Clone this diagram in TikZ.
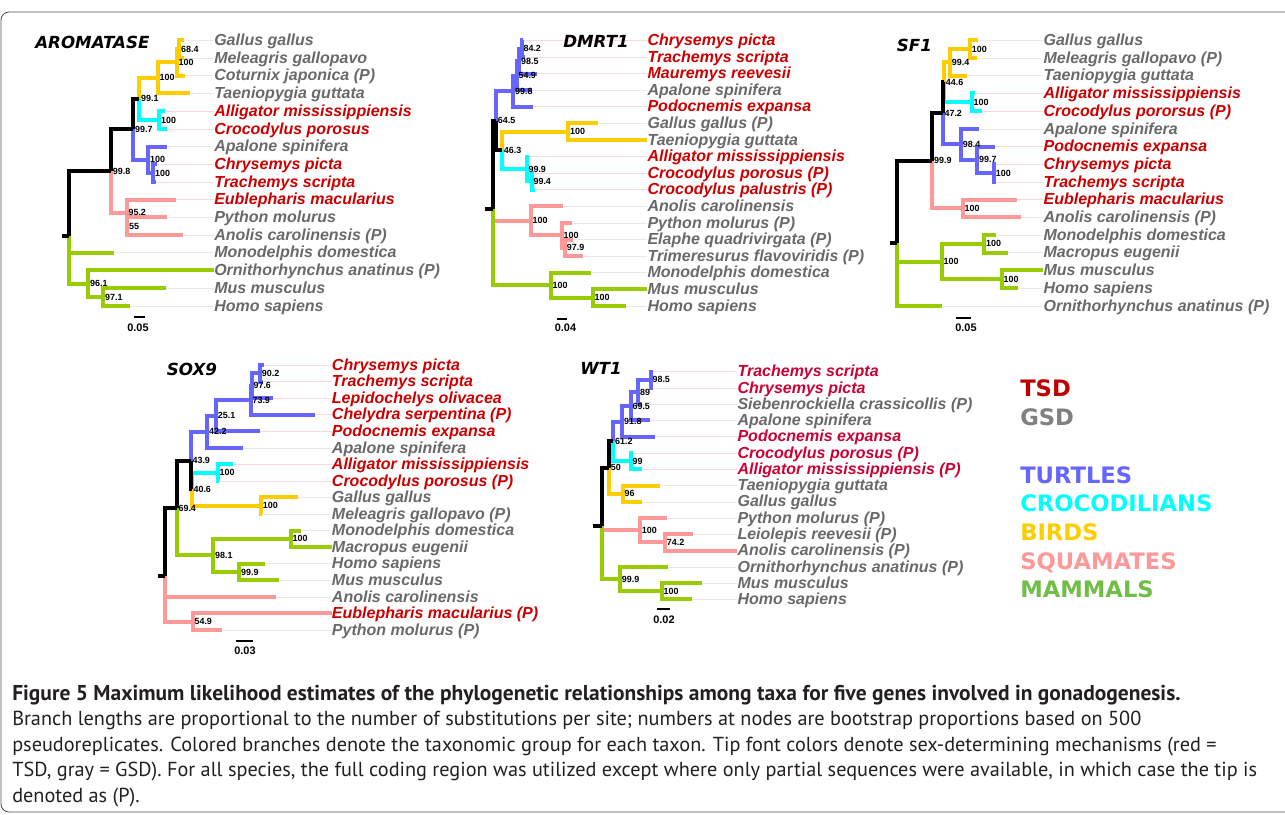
\documentclass[tikz,border=0pt]{standalone}
\usepackage{fontspec}
\setmainfont{Liberation Sans}
\newfontfamily\headfont{DejaVu Sans}
\newfontfamily\capfont{PT Sans}
\usetikzlibrary{positioning}
\definecolor{turt}{RGB}{102,102,255}
\definecolor{croc}{RGB}{0,255,255}
\definecolor{bird}{RGB}{255,204,0}
\definecolor{squa}{RGB}{255,153,153}
\definecolor{mamm}{RGB}{153,204,0}
\definecolor{mammleg}{RGB}{112,190,70}
\definecolor{tsd}{RGB}{204,0,0}
\definecolor{tsdw}{RGB}{204,0,51}
\definecolor{gsd}{RGB}{105,105,105}
\definecolor{tsdleg}{RGB}{192,0,0}
\definecolor{gsdleg}{RGB}{128,128,128}
\definecolor{captext}{RGB}{35,31,32}
\tikzset{
  br/.style={line width=3pt},
  tip/.style={anchor=base west, inner sep=0, font=\fontsize{12}{12}\selectfont\bfseries\itshape},
  guide/.style={line width=0.4pt},
  bs/.style={anchor=west, inner xsep=1.2pt, inner ysep=0, font=\fontsize{6.7}{6.7}\selectfont\bfseries},
  gene/.style={anchor=west, inner sep=0, font=\headfont\fontsize{12.5}{12.5}\selectfont\bfseries\itshape},
  sbar/.style={line width=1.5pt},
  sblab/.style={inner sep=0, font=\fontsize{8.2}{8.2}\selectfont\bfseries},
  legend/.style={anchor=west, inner sep=0, text depth=0pt, font=\headfont\fontsize{17}{17}\selectfont\bfseries},
  capline/.style={anchor=base west, inner sep=0, text=captext, font=\capfont\fontsize{15.2}{15.2}\selectfont},
  frame/.style={line width=0.6pt, draw=black!70, rounded corners=6pt}
}

\begin{document}
\begin{tikzpicture}[x=0.75pt, y=-0.75pt]
\useasboundingbox (0,0) rectangle (1285,814);
\draw[frame] (1285,12) -- (1,12) -- (1,812) -- (1285,812);

% AROMATASE
\foreach [count = \i] \t/\c/\x in {Gallus gallus/gsd/184, Meleagris gallopavo/gsd/184, Coturnix japonica (P)/gsd/185, Taeniopygia guttata/gsd/190, Alligator mississippiensis/tsd/165, Crocodylus porosus/tsd/166.7, Apalone spinifera/gsd/166.7, Chrysemys picta/tsd/156.7, Trachemys scripta/tsd/156, Eublepharis macularius/tsd/176, Python molurus/gsd/167.3, Anolis carolinensis (P)/gsd/182.7, Monodelphis domestica/gsd/114, Ornithorhynchus anatinus (P)/gsd/214, Mus musculus/gsd/166, Homo sapiens/gsd/130}{
\coordinate (aT\i) at (\x, {40.3+(\i-1)*17.7});
\node[tip, text=\c] (aL\i) at (214, {40.3+(\i-1)*17.7+5.2}) {\t};
\draw[guide, \c!15] (aT\i) -- (aT\i -| aL\i.west);
}
\node[gene] (aTitle) at (35,42) {AROMATASE};
\coordinate (aN1) at (179.3,49.15);
\coordinate (aN2) at (176.7,62.4);
\coordinate (aN3) at (157.7,77.9);
\coordinate (aN4) at (159.3,119.95);
\coordinate (aN5) at (139.3,98.9);
\coordinate (aN6) at (153.3,173.05);
\coordinate (aN7) at (148.3,159.8);
\coordinate (aN8) at (133.3,129.35);
\coordinate (aN9) at (127.3,226.15);
\coordinate (aN10) at (126.7,212.9);
\coordinate (aN11) at (111,171.1);
\coordinate (aN12) at (103.3,296.95);
\coordinate (aN13) at (88.3,283.7);
\coordinate (aR) at (69.3,235.8);
\coordinate (aS) at (61.7,235.8);
\foreach \p/\q in {aN1/aT1, aN1/aT2, aN2/aN1, aN2/aT3, aN3/aN2, aN3/aT4, aN5/aN3} \draw[br, bird] (\p) |- (\q);
\foreach \p/\q in {aN4/aT5, aN4/aT6, aN5/aN4} \draw[br, croc] (\p) |- (\q);
\foreach \p/\q in {aN6/aT8, aN6/aT9, aN7/aT7, aN7/aN6, aN8/aN7} \draw[br, turt] (\p) |- (\q);
\foreach \p/\q in {aN9/aT11, aN9/aT12, aN10/aT10, aN10/aN9, aN11/aN10} \draw[br, squa] (\p) |- (\q);
\foreach \p/\q in {aN12/aT15, aN12/aT16, aN13/aT14, aN13/aN12, aR/aT13, aR/aN13} \draw[br, mamm] (\p) |- (\q);
\foreach \p/\q in {aN8/aN5, aN11/aN8, aR/aN11, aS/aR} \draw[br, black] (\p) |- (\q);
\foreach \n/\s in {aN1/68.4, aN2/100, aN3/100, aN4/100, aN5/99.1, aN6/100, aN7/100, aN8/99.7, aN9/55, aN10/95.2, aN11/99.8, aN12/97.1, aN13/96.1} \node[bs] (b\n) at (\n) {\s};
\coordinate (aB1) at (134,317.3);
\coordinate (aB2) at (145,317.3);
\draw[sbar] (aB1) -- (aB2);
\node[sblab] (aBl) at (138,328) {0.05};

% DMRT1
\foreach [count = \i] \t/\c/\x in {Chrysemys picta/tsd/523.3, Trachemys scripta/tsd/525, Mauremys reevesii/tsd/536.7, Apalone spinifera/gsd/531.7, Podocnemis expansa/tsd/533.3, Gallus gallus (P)/gsd/598.3, Taeniopygia guttata/gsd/646.7, Alligator mississippiensis/tsd/528.5, Crocodylus porosus (P)/tsd/534, Crocodylus palustris (P)/tsd/535, Anolis carolinensis/gsd/563.3, Python molurus (P)/gsd/571.7, Elaphe quadrivirgata (P)/gsd/573.3, Trimeresurus flavoviridis (P)/gsd/582.7, Monodelphis domestica/gsd/590.7, Mus musculus/gsd/646.7, Homo sapiens/gsd/626}{
\coordinate (dT\i) at (\x, {40.3+(\i-1)*16.6});
\node[tip, text=\c] (dL\i) at (647.3, {40.3+(\i-1)*16.6+5.2}) {\t};
\draw[guide, \c!15] (dT\i) -- (dT\i -| dL\i.west);
}
\node[gene] (dTitle) at (563,41.7) {DMRT1};
\coordinate (dN1) at (521.7,48.6);
\coordinate (dN2) at (519.3,61.05);
\coordinate (dN3) at (516.7,75.6);
\coordinate (dN4) at (513.3,91.15);
\coordinate (dN5) at (568.3,131.6);
\coordinate (dN6) at (531.7,181.4);
\coordinate (dN7) at (526.7,168.95);
\coordinate (dN8) at (502,150.3);
\coordinate (dN9) at (496,120.7);
\coordinate (dN10) at (565,247.8);
\coordinate (dN11) at (561.7,235.35);
\coordinate (dN12) at (530.7,220.8);
\coordinate (dN13) at (592.7,297.6);
\coordinate (dN14) at (550.7,285.15);
\coordinate (dR) at (492.7,208.9);
\coordinate (dS) at (485,208.9);
\foreach \p/\q in {dN1/dT1, dN1/dT2, dN2/dN1, dN2/dT3, dN3/dN2, dN3/dT4, dN4/dN3, dN4/dT5, dN9/dN4} \draw[br, turt] (\p) |- (\q);
\foreach \p/\q in {dN5/dT6, dN5/dT7, dN8/dN5} \draw[br, bird] (\p) |- (\q);
\foreach \p/\q in {dN6/dT9, dN6/dT10, dN7/dT8, dN7/dN6, dN8/dN7} \draw[br, croc] (\p) |- (\q);
\foreach \p/\q in {dN10/dT13, dN10/dT14, dN11/dT12, dN11/dN10, dN12/dT11, dN12/dN11, dR/dN12} \draw[br, squa] (\p) |- (\q);
\foreach \p/\q in {dN13/dT16, dN13/dT17, dN14/dT15, dN14/dN13, dR/dN14} \draw[br, mamm] (\p) |- (\q);
\foreach \p/\q in {dN9/dN8, dR/dN9, dS/dR} \draw[br, black] (\p) |- (\q);
\foreach \n/\s in {dN1/84.2, dN2/98.5, dN3/54.9, dN4/99.8, dN5/100, dN6/99.4, dN7/99.9, dN8/46.3, dN9/64.5, dN10/97.9, dN11/100, dN12/100, dN13/100, dN14/100} \node[bs] (b\n) at (\n) {\s};
\coordinate (dB1) at (556.7,319);
\coordinate (dB2) at (567.3,319);
\draw[sbar] (dB1) -- (dB2);
\node[sblab] (dBl) at (565.5,328) {0.04};

% SF1
\foreach [count = \i] \t/\c/\x in {Gallus gallus/gsd/978.3, Meleagris gallopavo (P)/gsd/976.7, Taeniopygia guttata/gsd/966.7, Alligator mississippiensis/tsd/975, Crocodylus pororsus (P)/tsd/981.7, Apalone spinifera/gsd/979.3, Podocnemis expansa/tsd/995, Chrysemys picta/tsd/996, Trachemys scripta/tsd/996, Eublepharis macularius/tsd/1017.3, Anolis carolinensis (P)/gsd/1020.7, Monodelphis domestica/gsd/996, Macropus eugenii/gsd/1008.3, Mus musculus/gsd/1043.3, Homo sapiens/gsd/1018.3, Ornithorhynchus anatinus (P)/gsd/941.7}{
\coordinate (sT\i) at (\x, {40.3+(\i-1)*17.7});
\node[tip, text=\c] (sL\i) at (1043.3, {40.3+(\i-1)*17.7+5.2}) {\t};
\draw[guide, \c!15] (sT\i) -- (sT\i -| sL\i.west);
}
\node[gene] (sTitle) at (896.7,45.7) {SF1};
\coordinate (sN1) at (970,49.15);
\coordinate (sN2) at (950,62.4);
\coordinate (sN3) at (971.7,102.25);
\coordinate (sN4) at (944,82.3);
\coordinate (sN5) at (994,173.05);
\coordinate (sN6) at (977.3,159.8);
\coordinate (sN7) at (961,144.3);
\coordinate (sN8) at (942.7,113.3);
\coordinate (sN9) at (962.7,208.45);
\coordinate (sN10) at (932.3,160.9);
\coordinate (sN11) at (984.3,243.85);
\coordinate (sN12) at (1001.7,279.25);
\coordinate (sN13) at (941.7,261.55);
\coordinate (sR) at (897.3,242.75);
\coordinate (sS) at (890,242.75);
\foreach \p/\q in {sN1/sT1, sN1/sT2, sN2/sN1, sN2/sT3, sN4/sN2} \draw[br, bird] (\p) |- (\q);
\foreach \p/\q in {sN3/sT4, sN3/sT5, sN4/sN3} \draw[br, croc] (\p) |- (\q);
\foreach \p/\q in {sN5/sT8, sN5/sT9, sN6/sT7, sN6/sN5, sN7/sT6, sN7/sN6, sN8/sN7} \draw[br, turt] (\p) |- (\q);
\foreach \p/\q in {sN9/sT10, sN9/sT11, sN10/sN9} \draw[br, squa] (\p) |- (\q);
\foreach \p/\q in {sN11/sT12, sN11/sT13, sN12/sT14, sN12/sT15, sN13/sN11, sN13/sN12, sR/sN13, sR/sT16} \draw[br, mamm] (\p) |- (\q);
\foreach \p/\q in {sN8/sN4, sN10/sN8, sR/sN10, sS/sR} \draw[br, black] (\p) |- (\q);
\foreach \n/\s in {sN1/100, sN2/99.4, sN3/100, sN4/44.6, sN5/100, sN6/99.7, sN7/98.4, sN8/47.2, sN9/100, sN10/99.9, sN11/100, sN12/100, sN13/100} \node[bs] (b\n) at (\n) {\s};
\coordinate (sB1) at (956,318.3);
\coordinate (sB2) at (970.7,318.3);
\draw[sbar] (sB1) -- (sB2);
\node[sblab] (sBl) at (966,328) {0.05};

% SOX9
\foreach [count = \i] \t/\c/\x in {Chrysemys picta/tsd/264, Trachemys scripta/tsd/263.3, Lepidochelys olivacea/tsd/273.3, Chelydra serpentina (P)/tsd/315, Podocnemis expansa/tsd/260, Apalone spinifera/gsd/242.7, Alligator mississippiensis/tsd/232.7, Crocodylus porosus (P)/tsd/218.3, Gallus gallus/gsd/298.3, Meleagris gallopavo (P)/gsd/261.7, Monodelphis domestica/gsd/300.7, Macropus eugenii/gsd/331.7, Homo sapiens/gsd/265, Mus musculus/gsd/279.3, Anolis carolinensis/gsd/276, Eublepharis macularius (P)/tsd/331.7, Python molurus (P)/gsd/221.7}{
\coordinate (xT\i) at (\x, {365+(\i-1)*16.56});
\node[tip, text=\c] (xL\i) at (331.7, {365+(\i-1)*16.56+5.2}) {\t};
\draw[guide, \c!15] (xT\i) -- (xT\i -| xL\i.west);
}
\node[gene] (xTitle) at (166.7,369) {SOX9};
\coordinate (xN1) at (260,373.3);
\coordinate (xN2) at (251.7,385.7);
\coordinate (xN3) at (250.7,400.2);
\coordinate (xN4) at (216,415.7);
\coordinate (xN5) at (207.3,431.75);
\coordinate (xN6) at (217.7,472.64);
\coordinate (xN7) at (261,505.76);
\coordinate (xN8) at (191.7,489.2);
\coordinate (xN9) at (190.7,460.5);
\coordinate (xN10) at (290.7,538.9);
\coordinate (xN11) at (239.3,572);
\coordinate (xN12) at (213.3,555.45);
\coordinate (xN13) at (176.7,508);
\coordinate (xN14) at (192.7,621.7);
\coordinate (xR) at (165,575.5);
\coordinate (xS) at (158.3,575.5);
\foreach \p/\q in {xN1/xT1, xN1/xT2, xN2/xN1, xN2/xT3, xN3/xN2, xN3/xT4, xN4/xN3, xN4/xT5, xN5/xN4, xN5/xT6, xN9/xN5} \draw[br, turt] (\p) |- (\q);
\foreach \p/\q in {xN6/xT7, xN6/xT8, xN8/xN6} \draw[br, croc] (\p) |- (\q);
\foreach \p/\q in {xN7/xT9, xN7/xT10, xN8/xN7} \draw[br, bird] (\p) |- (\q);
\foreach \p/\q in {xN10/xT11, xN10/xT12, xN11/xT13, xN11/xT14, xN12/xN10, xN12/xN11, xN13/xN12} \draw[br, mamm] (\p) |- (\q);
\foreach \p/\q in {xN14/xT16, xN14/xT17, xR/xT15, xR/xN14} \draw[br, squa] (\p) |- (\q);
\foreach \p/\q in {xN9/xN8, xN13/xN9, xR/xN13, xS/xR} \draw[br, black] (\p) |- (\q);
\foreach \n/\s in {xN1/90.2, xN2/97.6, xN3/73.9, xN4/25.1, xN5/42.2, xN6/100, xN7/100, xN8/40.6, xN9/43.9, xN10/100, xN11/99.9, xN12/98.1, xN13/69.4, xN14/54.9} \node[bs] (b\n) at (\n) {\s};
\coordinate (xB1) at (236,641);
\coordinate (xB2) at (253.3,641);
\draw[sbar] (xB1) -- (xB2);
\node[sblab] (xBl) at (245,651) {0.03};

% WT1
\foreach [count = \i] \t/\c/\x in {Trachemys scripta/tsdw/652.7, Chrysemys picta/tsdw/652.7, Siebenrockiella crassicollis (P)/gsd/641.7, Apalone spinifera/gsd/650, Podocnemis expansa/tsdw/655, Crocodylus porosus (P)/tsdw/632.7, Alligator mississippiensis (P)/tsdw/641.7, Taeniopygia guttata/gsd/660, Gallus gallus/gsd/641.7, Python molurus (P)/gsd/667.3, Leiolepis reevesii (P)/gsd/692.7, Anolis carolinensis (P)/gsd/737.3, Ornithorhynchus anatinus (P)/gsd/668.3, Mus musculus/gsd/701.7, Homo sapiens/gsd/691.7}{
\coordinate (wT\i) at (\x, {371.7+(\i-1)*16.26});
\node[tip, text=\c] (wL\i) at (737.3, {371.7+(\i-1)*16.26+5.2}) {\t};
\draw[guide, \c!15] (wT\i) -- (wT\i -| wL\i.west);
}
\node[gene] (wTitle) at (580,368.3) {WT1};
\coordinate (wN1) at (650.7,379.83);
\coordinate (wN2) at (638.3,392.03);
\coordinate (wN3) at (630.7,406.25);
\coordinate (wN4) at (622.3,421.5);
\coordinate (wN5) at (630.7,461.13);
\coordinate (wN6) at (613.3,441.3);
\coordinate (wN7) at (622.7,493.65);
\coordinate (wN8) at (609,467.5);
\coordinate (wN9) at (665,542.43);
\coordinate (wN10) at (640,530.2);
\coordinate (wN11) at (661.7,591.2);
\coordinate (wN12) at (620,579);
\coordinate (wR) at (601.7,525.6);
\coordinate (wS) at (592.7,525.6);
\foreach \p/\q in {wN1/wT1, wN1/wT2, wN2/wN1, wN2/wT3, wN3/wN2, wN3/wT4, wN4/wN3, wN4/wT5, wN6/wN4} \draw[br, turt] (\p) |- (\q);
\foreach \p/\q in {wN5/wT6, wN5/wT7, wN6/wN5} \draw[br, croc] (\p) |- (\q);
\foreach \p/\q in {wN7/wT8, wN7/wT9, wN8/wN7} \draw[br, bird] (\p) |- (\q);
\foreach \p/\q in {wN9/wT11, wN9/wT12, wN10/wT10, wN10/wN9, wR/wN10} \draw[br, squa] (\p) |- (\q);
\foreach \p/\q in {wN11/wT14, wN11/wT15, wN12/wT13, wN12/wN11, wR/wN12} \draw[br, mamm] (\p) |- (\q);
\foreach \p/\q in {wN8/wN6, wR/wN8, wS/wR} \draw[br, black] (\p) |- (\q);
\foreach \n/\s in {wN1/98.5, wN2/89, wN3/69.5, wN4/91.8, wN5/99, wN6/61.2, wN7/96, wN8/50, wN9/74.2, wN10/100, wN11/100, wN12/99.9} \node[bs] (b\n) at (\n) {\s};
\coordinate (wB1) at (656.5,609);
\coordinate (wB2) at (670,609);
\draw[sbar] (wB1) -- (wB2);
\node[sblab] (wBl) at (664,620) {0.02};

% legend
\foreach [count = \i] \t/\c/\y in {TSD/tsdleg/388.3, GSD/gsdleg/416.7, TURTLES/turt/475, CROCODILIANS/croc/503.3, BIRDS/bird/531.7, SQUAMATES/squa/560.7, MAMMALS/mammleg/589.3}
  \node[legend, text=\c] (leg\i) at (1020,\y) {\t};

% caption
\node[capline, font=\capfont\fontsize{16.1}{16.1}\selectfont\bfseries] (cap1) at (12,700.5) {Figure 5 Maximum likelihood estimates of the phylogenetic relationships among taxa for five genes involved in gonadogenesis.};
\node[capline] (cap2) at (12,725.5) {Branch lengths are proportional to the number of substitutions per site; numbers at nodes are bootstrap proportions based on 500};
\node[capline] (cap3) at (12,751) {pseudoreplicates. Colored branches denote the taxonomic group for each taxon. Tip font colors denote sex-determining mechanisms (red =};
\node[capline] (cap4) at (12,776.5) {TSD, gray = GSD). For all species, the full coding region was utilized except where only partial sequences were available, in which case the tip is};
\node[capline] (cap5) at (12,802) {denoted as (P).};
\end{tikzpicture}
\end{document}
